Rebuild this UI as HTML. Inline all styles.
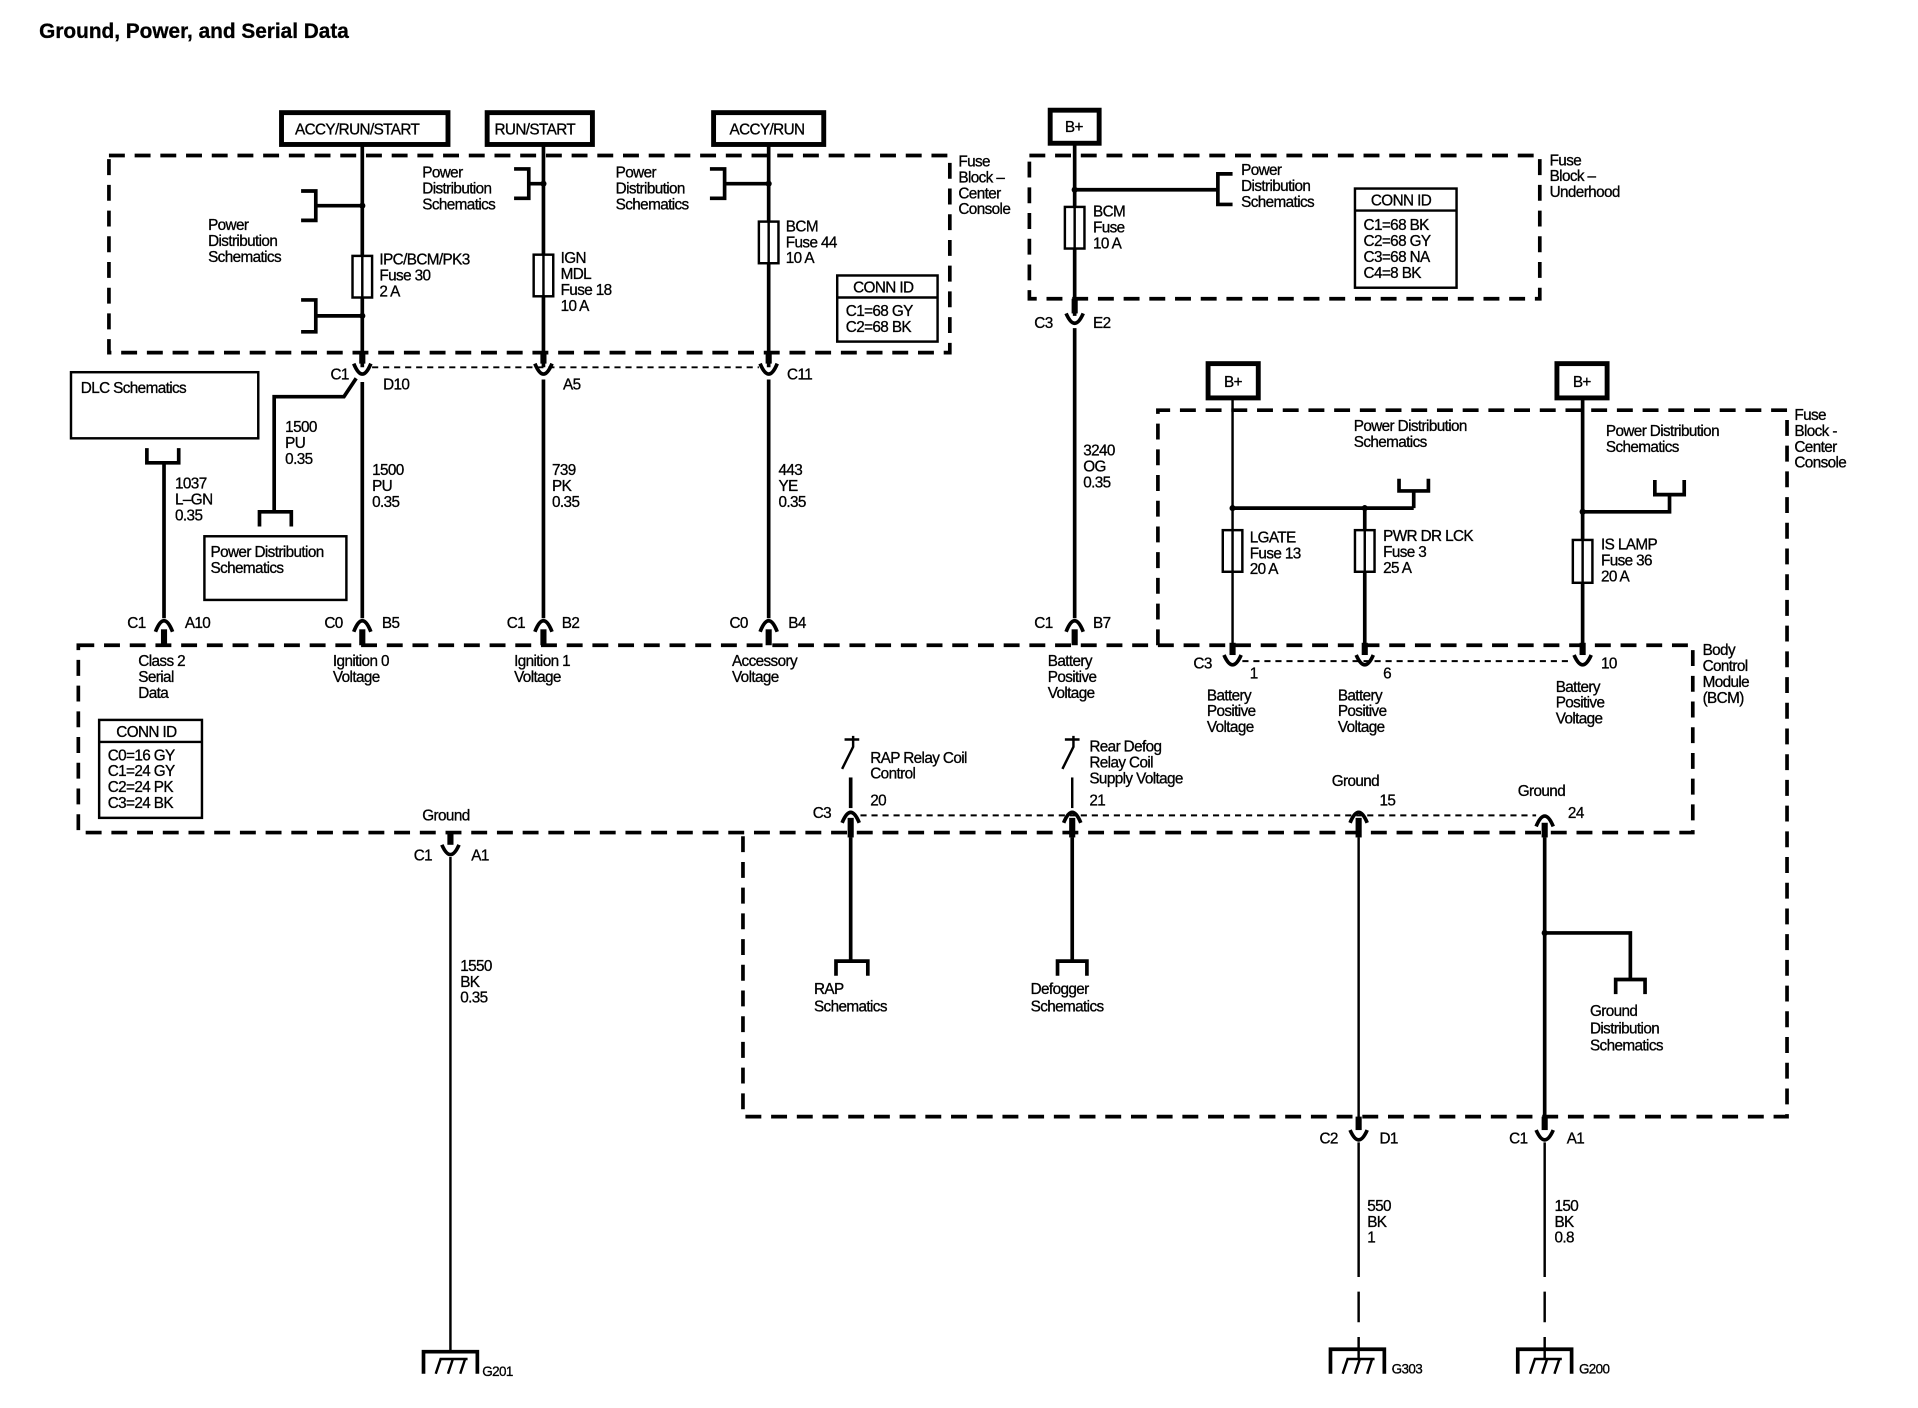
<!DOCTYPE html>
<html><head><meta charset="utf-8"><style>
html,body{margin:0;padding:0;background:#fff}
svg{display:block}
text{font-family:"Liberation Sans",sans-serif;font-size:12.5px;fill:#000;letter-spacing:-0.5px;stroke:#000;stroke-width:0.25px}
.w{stroke:#000;stroke-width:3;fill:none}
.n{stroke:#000;stroke-width:2;fill:none}
.k{stroke:#000;stroke-width:5;fill:none}
.d{stroke:#000;stroke-width:3;fill:none;stroke-dasharray:13 8}
.t{stroke:#000;stroke-width:1.6;fill:none;stroke-dasharray:5 4}
.bx{stroke:#000;stroke-width:4;fill:#fff}
.b2{stroke:#000;stroke-width:2;fill:#fff}
</style></head><body>
<svg width="1918" height="1408" viewBox="0 0 1567 1150" preserveAspectRatio="none" xmlns="http://www.w3.org/2000/svg">
<text x="32" y="31" style="font-size:17px;font-weight:bold;letter-spacing:0">Ground, Power, and Serial Data</text>

<rect class="bx" x="230" y="92" width="136" height="26"/><text x="241" y="110">ACCY/RUN/START</text>
<rect class="bx" x="398" y="92" width="86" height="26"/><text x="404" y="110">RUN/START</text>
<rect class="bx" x="583" y="92" width="90" height="26"/><text x="596" y="110">ACCY/RUN</text>
<rect class="bx" x="858" y="90" width="40" height="27"/><text x="870" y="108">B+</text>

<rect class="d" x="89" y="127" width="687" height="161"/>
<text x="783" y="136">Fuse</text><text x="783" y="149">Block –</text><text x="783" y="162">Center</text><text x="783" y="175">Console</text>

<line class="w" x1="296" y1="118" x2="296" y2="300"/>
<line class="w" x1="296" y1="312" x2="296" y2="505"/>
<path class="w" d="M246,156 H258 V180 H246 M258,168 H296"/>
<path class="w" d="M246,245 H258 V271 H246 M258,258 H296"/>
<circle cx="296" cy="168" r="2.5"/><circle cx="296" cy="258" r="2.5"/>
<text x="170" y="188">Power</text><text x="170" y="201">Distribution</text><text x="170" y="214">Schematics</text>
<rect class="b2" x="288" y="209" width="16" height="34"/><line class="n" x1="296" y1="209" x2="296" y2="243"/>
<text x="310" y="216">IPC/BCM/PK3</text><text x="310" y="229">Fuse 30</text><text x="310" y="242">2 A</text>

<line class="w" x1="444" y1="118" x2="444" y2="300"/>
<line class="w" x1="444" y1="310" x2="444" y2="505"/>
<path class="w" d="M420,138 H432 V162 H420 M432,150 H444"/><circle cx="444" cy="150" r="2.5"/>
<text x="345" y="145">Power</text><text x="345" y="158">Distribution</text><text x="345" y="171">Schematics</text>
<rect class="b2" x="436" y="208" width="16" height="34"/><line class="n" x1="444" y1="208" x2="444" y2="242"/>
<text x="458" y="215">IGN</text><text x="458" y="228">MDL</text><text x="458" y="241">Fuse 18</text><text x="458" y="254">10 A</text>

<line class="w" x1="628" y1="118" x2="628" y2="300"/>
<line class="w" x1="628" y1="310" x2="628" y2="505"/>
<path class="w" d="M580,138 H592 V162 H580 M592,150 H628"/><circle cx="628" cy="150" r="2.5"/>
<text x="503" y="145">Power</text><text x="503" y="158">Distribution</text><text x="503" y="171">Schematics</text>
<rect class="b2" x="620" y="181" width="16" height="34"/><line class="n" x1="628" y1="181" x2="628" y2="215"/>
<text x="642" y="189">BCM</text><text x="642" y="202">Fuse 44</text><text x="642" y="215">10 A</text>
<rect class="b2" x="684" y="225" width="82" height="54"/><line class="n" x1="684" y1="243" x2="766" y2="243"/>
<text x="697" y="239">CONN ID</text><text x="691" y="258">C1=68 GY</text><text x="691" y="271">C2=68 BK</text>

<line class="t" x1="304" y1="300" x2="620" y2="300"/>
<line class="k" x1="296" y1="288" x2="296" y2="297"/><path class="w" d="M289,297 Q296,314 303,297"/>
<line class="k" x1="444" y1="288" x2="444" y2="297"/><path class="w" d="M437,297 Q444,314 451,297"/>
<line class="k" x1="628" y1="288" x2="628" y2="297"/><path class="w" d="M621,297 Q628,314 635,297"/>
<text x="270" y="310">C1</text><text x="313" y="318">D10</text>
<text x="460" y="318">A5</text><text x="643" y="310">C11</text>
<path class="w" d="M291,309 L281,324 H224 V418"/>
<path class="w" d="M212,430 V418 H238 V430"/>
<text x="233" y="353">1500</text><text x="233" y="366">PU</text><text x="233" y="379">0.35</text>
<rect class="b2" x="167" y="438" width="116" height="52"/>
<text x="172" y="455">Power Distribution</text><text x="172" y="468">Schematics</text>
<text x="304" y="388">1500</text><text x="304" y="401">PU</text><text x="304" y="414">0.35</text>
<text x="451" y="388">739</text><text x="451" y="401">PK</text><text x="451" y="414">0.35</text>
<text x="636" y="388">443</text><text x="636" y="401">YE</text><text x="636" y="414">0.35</text>

<rect class="b2" x="58" y="304" width="153" height="54"/><text x="66" y="321">DLC Schematics</text>
<path class="w" d="M120,366 V378 H146 V366 M134,378 V505"/>
<text x="143" y="399">1037</text><text x="143" y="412">L–GN</text><text x="143" y="425">0.35</text>

<path class="w" d="M127,516 Q134,498 141,516"/><line class="k" x1="134" y1="514" x2="134" y2="527"/>
<path class="w" d="M289,516 Q296,498 303,516"/><line class="k" x1="296" y1="514" x2="296" y2="527"/>
<path class="w" d="M437,516 Q444,498 451,516"/><line class="k" x1="444" y1="514" x2="444" y2="527"/>
<path class="w" d="M621,516 Q628,498 635,516"/><line class="k" x1="628" y1="514" x2="628" y2="527"/>
<path class="w" d="M871,516 Q878,498 885,516"/><line class="k" x1="878" y1="514" x2="878" y2="527"/>
<text x="104" y="513">C1</text><text x="151" y="513">A10</text>
<text x="265" y="513">C0</text><text x="312" y="513">B5</text>
<text x="414" y="513">C1</text><text x="459" y="513">B2</text>
<text x="596" y="513">C0</text><text x="644" y="513">B4</text>
<text x="845" y="513">C1</text><text x="893" y="513">B7</text>

<rect class="d" x="64" y="527" width="1319" height="153"/>
<text x="1391" y="535">Body</text><text x="1391" y="548">Control</text><text x="1391" y="561">Module</text><text x="1391" y="574">(BCM)</text>
<text x="113" y="544">Class 2</text><text x="113" y="557">Serial</text><text x="113" y="570">Data</text>
<text x="272" y="544">Ignition 0</text><text x="272" y="557">Voltage</text>
<text x="420" y="544">Ignition 1</text><text x="420" y="557">Voltage</text>
<text x="598" y="544">Accessory</text><text x="598" y="557">Voltage</text>
<text x="856" y="544">Battery</text><text x="856" y="557">Positive</text><text x="856" y="570">Voltage</text>
<rect class="b2" x="81" y="588" width="84" height="80"/><line class="n" x1="81" y1="606" x2="165" y2="606"/>
<text x="95" y="602">CONN ID</text><text x="88" y="621">C0=16 GY</text><text x="88" y="634">C1=24 GY</text><text x="88" y="647">C2=24 PK</text><text x="88" y="660">C3=24 BK</text>

<text x="345" y="670">Ground</text>
<line class="k" x1="368" y1="680" x2="368" y2="690"/><path class="w" d="M361,690 Q368,706 375,690"/>
<text x="338" y="703">C1</text><text x="385" y="703">A1</text>
<line class="n" x1="368" y1="700" x2="368" y2="1104"/>
<path class="w" d="M346,1122 V1104 H390 V1122"/>
<path class="n" d="M356,1122 L360,1110 H382 M366,1122 L370,1110 M376,1122 L380,1110"/>
<text x="394" y="1124" style="font-size:11px">G201</text>
<text x="376" y="793">1550</text><text x="376" y="806">BK</text><text x="376" y="819">0.35</text>

<line class="w" x1="878" y1="117" x2="878" y2="258"/>
<line class="w" x1="878" y1="268" x2="878" y2="505"/>
<path class="w" d="M1007,142 H995 V167 H1007 M995,155 H878"/><circle cx="878" cy="155" r="2.5"/>
<text x="1014" y="143">Power</text><text x="1014" y="156">Distribution</text><text x="1014" y="169">Schematics</text>
<rect class="b2" x="870" y="169" width="16" height="34"/><line class="n" x1="878" y1="169" x2="878" y2="203"/>
<text x="893" y="177">BCM</text><text x="893" y="190">Fuse</text><text x="893" y="203">10 A</text>
<rect class="d" x="841" y="127" width="417" height="117"/>
<text x="1266" y="135">Fuse</text><text x="1266" y="148">Block –</text><text x="1266" y="161">Underhood</text>
<rect class="b2" x="1107" y="154" width="83" height="81"/><line class="n" x1="1107" y1="172" x2="1190" y2="172"/>
<text x="1120" y="168">CONN ID</text><text x="1114" y="188">C1=68 BK</text><text x="1114" y="201">C2=68 GY</text><text x="1114" y="214">C3=68 NA</text><text x="1114" y="227">C4=8 BK</text>
<line class="k" x1="878" y1="244" x2="878" y2="256"/><path class="w" d="M871,256 Q878,272 885,256"/>
<text x="845" y="268">C3</text><text x="893" y="268">E2</text>
<text x="885" y="372">3240</text><text x="885" y="385">OG</text><text x="885" y="398">0.35</text>

<path class="d" d="M946,527 V335 H1460 V912 H607 V680"/>
<text x="1466" y="343">Fuse</text><text x="1466" y="356">Block -</text><text x="1466" y="369">Center</text><text x="1466" y="382">Console</text>
<rect class="bx" x="987" y="297" width="41" height="28"/><text x="1000" y="316">B+</text>
<rect class="bx" x="1272" y="297" width="41" height="28"/><text x="1285" y="316">B+</text>
<line class="n" x1="1007" y1="325" x2="1007" y2="530"/>
<line class="w" x1="1007" y1="415" x2="1155" y2="415"/>
<path class="w" d="M1143,391 V401 H1167 V391 M1155,401 V415"/>
<circle cx="1007" cy="415" r="2.5"/><circle cx="1115" cy="415" r="2.5"/>
<line class="w" x1="1115" y1="415" x2="1115" y2="530"/>
<rect class="b2" x="999" y="433" width="16" height="34"/><line class="n" x1="1007" y1="433" x2="1007" y2="467"/>
<rect class="b2" x="1107" y="433" width="16" height="34"/><line class="n" x1="1115" y1="433" x2="1115" y2="467"/>
<text x="1021" y="443">LGATE</text><text x="1021" y="456">Fuse 13</text><text x="1021" y="469">20 A</text>
<text x="1130" y="442">PWR DR LCK</text><text x="1130" y="455">Fuse 3</text><text x="1130" y="468">25 A</text>
<text x="1106" y="352">Power Distribution</text><text x="1106" y="365">Schematics</text>
<line class="w" x1="1293" y1="325" x2="1293" y2="530"/>
<path class="w" d="M1293,418 H1364 V404 M1352,392 V404 H1376 V392"/><circle cx="1293" cy="418" r="2.5"/>
<rect class="b2" x="1285" y="441" width="16" height="35"/><line class="n" x1="1293" y1="441" x2="1293" y2="476"/>
<text x="1308" y="449">IS LAMP</text><text x="1308" y="462">Fuse 36</text><text x="1308" y="475">20  A</text>
<text x="1312" y="356">Power Distribution</text><text x="1312" y="369">Schematics</text>

<line class="t" x1="1015" y1="540" x2="1285" y2="540"/>
<line class="k" x1="1007" y1="525" x2="1007" y2="535"/><path class="w" d="M1000,535 Q1007,551 1014,535"/>
<line class="k" x1="1115" y1="525" x2="1115" y2="535"/><path class="w" d="M1108,535 Q1115,551 1122,535"/>
<line class="k" x1="1293" y1="525" x2="1293" y2="535"/><path class="w" d="M1286,535 Q1293,551 1300,535"/>
<text x="975" y="546">C3</text><text x="1021" y="554">1</text><text x="1130" y="554">6</text><text x="1308" y="546">10</text>
<text x="986" y="572">Battery</text><text x="986" y="585">Positive</text><text x="986" y="598">Voltage</text>
<text x="1093" y="572">Battery</text><text x="1093" y="585">Positive</text><text x="1093" y="598">Voltage</text>
<text x="1271" y="565">Battery</text><text x="1271" y="578">Positive</text><text x="1271" y="591">Voltage</text>

<line class="t" x1="703" y1="666" x2="1255" y2="666"/>
<path class="n" d="M690,604 H702 M697,601 V610 L688,628"/>
<path class="n" d="M870,604 H882 M877,601 V610 L868,628"/>
<line class="w" x1="695" y1="635" x2="695" y2="660"/><line class="n" x1="876" y1="635" x2="876" y2="660"/>
<text x="711" y="623">RAP Relay Coil</text><text x="711" y="636">Control</text><text x="711" y="658">20</text>
<text x="890" y="614">Rear Defog</text><text x="890" y="627">Relay Coil</text><text x="890" y="640">Supply Voltage</text><text x="890" y="658">21</text>
<text x="664" y="668">C3</text>
<text x="1088" y="642">Ground</text><text x="1127" y="658">15</text>
<text x="1240" y="650">Ground</text><text x="1281" y="668">24</text>
<path class="w" d="M688,672 Q695,655 702,672"/><line class="k" x1="695" y1="668" x2="695" y2="684"/>
<path class="w" d="M869,672 Q876,655 883,672"/><line class="k" x1="876" y1="668" x2="876" y2="684"/>
<path class="w" d="M1103,672 Q1110,655 1117,672"/><line class="k" x1="1110" y1="668" x2="1110" y2="684"/>
<path class="w" d="M1255,675 Q1262,658 1269,675"/><line class="k" x1="1262" y1="672" x2="1262" y2="684"/>
<line class="w" x1="695" y1="684" x2="695" y2="785"/>
<path class="w" d="M683,797 V785 H709 V797"/>
<text x="665" y="812">RAP</text><text x="665" y="826">Schematics</text>
<line class="w" x1="876" y1="684" x2="876" y2="785"/>
<path class="w" d="M864,797 V785 H888 V797"/>
<text x="842" y="812">Defogger</text><text x="842" y="826">Schematics</text>
<line class="n" x1="1110" y1="684" x2="1110" y2="914"/>
<line class="w" x1="1262" y1="684" x2="1262" y2="914"/>
<path class="w" d="M1262,762 H1332 V800 M1320,812 V800 H1344 V812"/><circle cx="1262" cy="762" r="2.5"/>
<text x="1299" y="830">Ground</text><text x="1299" y="844">Distribution</text><text x="1299" y="858">Schematics</text>

<line class="k" x1="1110" y1="912" x2="1110" y2="923"/><path class="w" d="M1103,923 Q1110,939 1117,923"/>
<line class="k" x1="1262" y1="912" x2="1262" y2="923"/><path class="w" d="M1255,923 Q1262,939 1269,923"/>
<text x="1078" y="934">C2</text><text x="1127" y="934">D1</text>
<text x="1233" y="934">C1</text><text x="1280" y="934">A1</text>
<line class="n" x1="1110" y1="933" x2="1110" y2="1043"/>
<line class="n" x1="1262" y1="933" x2="1262" y2="1043"/>
<path class="n" d="M1110,1055 V1080 M1262,1055 V1080 M1110,1092 V1102 M1262,1092 V1102" />
<text x="1117" y="989">550</text><text x="1117" y="1002">BK</text><text x="1117" y="1015">1</text>
<text x="1270" y="989">150</text><text x="1270" y="1002">BK</text><text x="1270" y="1015">0.8</text>
<path class="w" d="M1087,1122 V1102 H1131 V1122"/>
<path class="n" d="M1097,1122 L1101,1110 H1123 M1107,1122 L1111,1110 M1117,1122 L1121,1110 M1110,1102 V1110"/>
<text x="1137" y="1122" style="font-size:11px">G303</text>
<path class="w" d="M1240,1122 V1102 H1284 V1122"/>
<path class="n" d="M1250,1122 L1254,1110 H1276 M1260,1122 L1264,1110 M1270,1122 L1274,1110 M1262,1102 V1110"/>
<text x="1290" y="1122" style="font-size:11px">G200</text>
</svg>
</body></html>
